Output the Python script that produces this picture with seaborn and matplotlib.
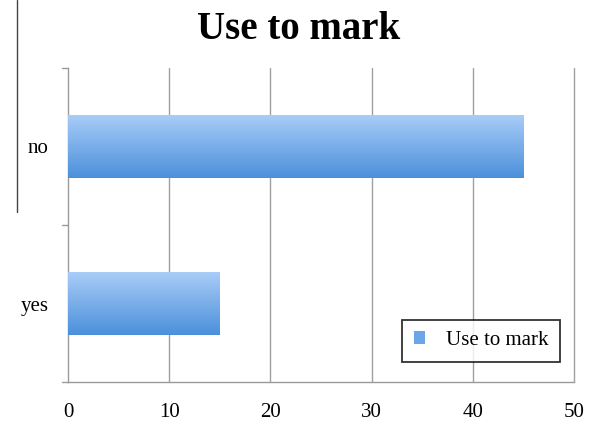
import numpy as np
import pandas as pd
import matplotlib
matplotlib.use("Agg")
import matplotlib.pyplot as plt
import seaborn as sns
from matplotlib.colors import LinearSegmentedColormap
from matplotlib.patches import Patch
from matplotlib.lines import Line2D

categories = ["no", "yes"]
values = [45, 15]
series_name = "Use to mark"
x_ticks = [0, 10, 20, 30, 40, 50]

sns.set_style("white")
plt.rcParams['font.family'] = ['Liberation Serif', 'DejaVu Serif']
plt.rcParams['text.color'] = 'black'
plt.rcParams['xtick.color'] = 'black'
plt.rcParams['ytick.color'] = 'black'

df = pd.DataFrame({"category": categories, "value": values})

fig = plt.figure(figsize=(5.97, 4.21), dpi=100)
ax = fig.add_axes([0.1139, 0.0926, 0.8476, 0.7459])

sns.barplot(data=df, y="category", x="value", orient="h", color="#6aa6e8",
            width=0.4, ax=ax, zorder=3, linewidth=0)

ax.set_xlim(0, 50)
ax.set_ylim(1.5, -0.5)
ax.set_xticks(x_ticks)
ax.set_xticklabels([str(t) for t in x_ticks], fontsize=15)
ax.set_xlabel("")
ax.set_ylabel("")

# gradient fill on bars
cmap = LinearSegmentedColormap.from_list("g", ["#a9cdf7", "#4b8fdb"])
grad = np.linspace(0, 1, 256).reshape(-1, 1)
for p in list(ax.patches):
    x0, y0 = p.get_x(), p.get_y()
    w, h = p.get_width(), p.get_height()
    im = ax.imshow(grad, cmap=cmap, aspect="auto",
                   extent=[x0, x0 + w, y0 + h, y0], zorder=4, origin="upper")
    im.set_clip_path(p)
ax.set_xlim(0, 50)
ax.set_ylim(1.5, -0.5)

# y ticks: labels at centers, tick marks at boundaries
ax.set_yticks([0, 1])
ax.set_yticklabels(categories, fontsize=15)
ax.tick_params(axis="y", length=0, pad=14)
for yb in [-0.5, 0.5, 1.5]:
    ax.plot([-0.012, 0], [yb, yb], transform=ax.get_yaxis_transform(),
            color="#9a9a9a", lw=1, clip_on=False, zorder=5)
ax.tick_params(axis="x", length=4, color="#9a9a9a", width=1, pad=11)

ax.xaxis.grid(False)
ax.yaxis.grid(False)
for t in x_ticks[1:]:
    ax.plot([t, t], [0, 1], transform=ax.get_xaxis_transform(),
            color="#a0a0a0", lw=1, zorder=1, clip_on=False)
for s in ["top", "right"]:
    ax.spines[s].set_visible(False)
for s in ["left", "bottom"]:
    ax.spines[s].set_color("#9a9a9a")
    ax.spines[s].set_linewidth(1)

fig.suptitle(series_name, fontsize=28, fontweight="bold", y=0.975, color="black")

handle = Patch(facecolor="#6aa6e8", edgecolor="none")
leg = ax.legend([handle], [series_name], loc="lower right",
                bbox_to_anchor=(0.972, 0.065), fontsize=15, frameon=True,
                fancybox=False, handlelength=0.55, handleheight=0.55,
                borderpad=0.55, handletextpad=1.0, borderaxespad=0)
leg.get_frame().set_edgecolor("black")
leg.get_frame().set_linewidth(1.3)
leg.set_zorder(10)

# stray left vertical line seen in reference
fig.add_artist(Line2D([17 / 597, 17 / 597], [1.0, 1 - 212 / 421],
                      color="#444444", lw=1))

fig.savefig("out.png", dpi=100)
